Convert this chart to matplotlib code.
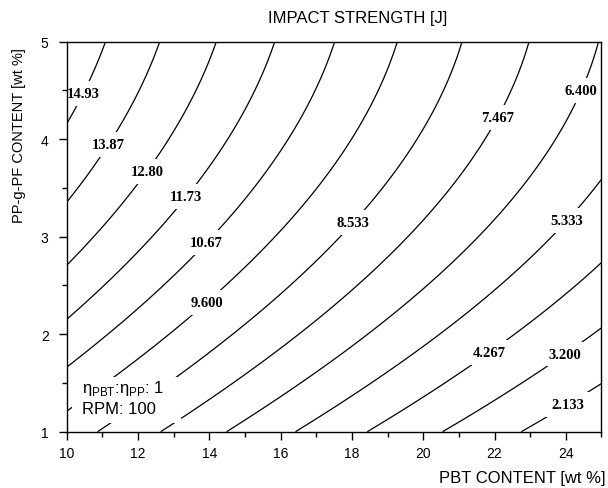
import numpy as np
import matplotlib
matplotlib.use("Agg")
import matplotlib.pyplot as plt
from matplotlib.patches import Rectangle
from matplotlib.ticker import MultipleLocator

plt.rcParams['font.family'] = ['Liberation Sans', 'DejaVu Sans']
plt.rcParams['mathtext.fontset'] = 'custom'
plt.rcParams['mathtext.rm'] = 'Liberation Sans'

# Contour levels of impact strength [J]
levels = [2.133, 3.200, 4.267, 5.333, 6.400, 7.467, 8.533, 9.600,
          10.67, 11.73, 12.80, 13.87, 14.93]

# Points traced along the iso-lines: PBT content, PP-g-PF content, impact strength
trace_pbt = [10.0, 11.1, 10.40,
             10.0, 12.62, 11.14,
             10.0, 14.21, 12.22,
             10.0, 15.85, 13.32, 14.54,
             10.0, 17.54, 13.90, 16.22, 12.62,
             10.0, 19.27, 13.90, 18.0, 14.59, 15.80,
             10.85, 21.1, 18.0, 19.88, 14.49, 17.68, 19.36, 20.9,
             12.62, 22.97, 22.03, 21.9, 19.36, 14.59, 19.50,
             14.5, 24.93, 24.37, 24.28, 20.96, 21.33,
             16.43, 25.0, 24.02, 21.33,
             18.47, 25.0, 21.81, 21.33,
             20.6, 25.0, 23.95, 21.33,
             22.85, 25.0, 24.03]
trace_ppg = [4.14, 5.0, 4.48,
             3.32, 5.0, 3.95,
             2.69, 5.0, 3.68,
             2.156, 5.0, 3.42, 4.0,
             1.66, 5.0, 2.95, 4.0, 2.45,
             1.215, 5.0, 2.34, 4.0, 2.53, 2.975,
             1.0, 5.0, 3.16, 4.0, 1.95, 2.975, 3.73, 4.82,
             1.0, 5.0, 4.23, 4.09, 2.92, 1.49, 2.975,
             1.0, 5.0, 4.51, 4.38, 2.77, 2.975,
             1.0, 3.55, 3.17, 2.22,
             1.0, 2.70, 1.83, 1.68,
             1.0, 2.05, 1.81, 1.18,
             1.0, 1.50, 1.30]
trace_level = ([14.93] * 3 + [13.87] * 3 + [12.80] * 3 + [11.73] * 4 +
               [10.67] * 5 + [9.600] * 6 + [8.533] * 8 + [7.467] * 7 +
               [6.400] * 6 + [5.333] * 4 + [4.267] * 4 + [3.200] * 4 +
               [2.133] * 3)

# Label anchor points (PBT, PP-g-PF)
label_pos = [(10.40, 4.48), (11.14, 3.95), (12.22, 3.68), (13.32, 3.42),
             (13.90, 2.95), (13.90, 2.34), (18.0, 3.16), (22.03, 4.23),
             (24.37, 4.51), (24.02, 3.17), (21.81, 1.83), (23.95, 1.81),
             (24.03, 1.30)]


def design(x, y):
    u = (np.asarray(x) - 17.5) / 7.5
    v = (np.asarray(y) - 3.0) / 2.0
    return np.stack([np.ones_like(u), u, v, u * u, u * v, v * v,
                     u ** 3, u * u * v, u * v * v, v ** 3], axis=-1)


# Least-squares cubic response surface through the traced points
A = design(trace_pbt, trace_ppg)
coef, *_ = np.linalg.lstsq(A, np.asarray(trace_level), rcond=None)

gx = np.linspace(10, 25, 400)
gy = np.linspace(1, 5, 400)
GX, GY = np.meshgrid(gx, gy)
GZ = design(GX, GY) @ coef

fig = plt.figure(figsize=(6.08, 4.89), dpi=100)
ax = fig.add_axes([0.1097, 0.1151, 0.8796, 0.7976])

cs = ax.contour(GX, GY, GZ, levels=levels, colors='black', linewidths=0.9)
texts = ax.clabel(cs, levels=levels, inline=False, manual=label_pos,
                  fmt=lambda v: '{:#.4g}'.format(v), fontsize=10.5)
for t in texts:
    t.set_rotation(0)
    t.set_fontfamily('Liberation Serif')
    t.set_fontweight('bold')
    t.set_bbox(dict(boxstyle='square,pad=0.4', fc='white', ec='none'))
    t.set_zorder(4)

ax.set_xlim(10, 25)
ax.set_ylim(1, 5)
ax.xaxis.set_major_locator(MultipleLocator(2))
ax.xaxis.set_minor_locator(MultipleLocator(1))
ax.yaxis.set_major_locator(MultipleLocator(1))
ax.yaxis.set_minor_locator(MultipleLocator(0.5))
ax.tick_params(which='major', direction='out', length=6, width=1,
               labelsize=10, top=False, right=False)
ax.tick_params(axis='x', which='major', pad=4)
ax.tick_params(axis='y', which='major', pad=7)
ax.tick_params(which='minor', direction='out', length=3.5, width=1,
               top=False, right=False)
for sp in ax.spines.values():
    sp.set_linewidth(1.0)
    sp.set_zorder(5)

# White panel behind the process-condition note
ax.add_patch(Rectangle((0.0099, 0.0236), 0.204, 0.117,
                       transform=ax.transAxes, fc='white', ec='none',
                       zorder=3.5))
ax.text(0.0286, 0.1018, r'η$_{\mathrm{PBT}}$:η$_{\mathrm{PP}}$: 1',
        transform=ax.transAxes, fontsize=12, va='baseline', ha='left',
        zorder=4)
ax.text(0.0286, 0.048, 'RPM: 100', transform=ax.transAxes, fontsize=12,
        va='baseline', ha='left', zorder=4)

fig.text(0.589, 0.963, 'IMPACT STRENGTH [J]', ha='center', va='center',
         fontsize=12)
fig.text(0.859, 0.022, 'PBT CONTENT [wt %]', ha='center', va='center',
         fontsize=12)
fig.text(0.031, 0.722, 'PP-g-PF CONTENT [wt %]', ha='center', va='center',
         rotation=90, fontsize=10.5)

fig.savefig('out.png', dpi=100)
